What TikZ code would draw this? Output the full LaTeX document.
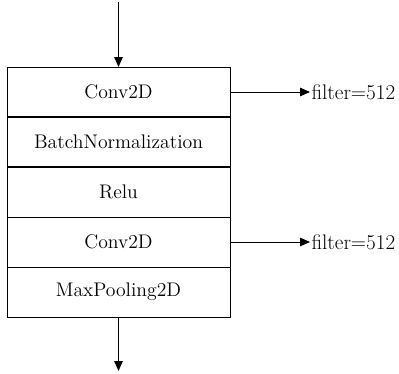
\documentclass[tikz,border=0pt]{standalone}
\usetikzlibrary{positioning,arrows.meta}

\begin{document}
\begin{tikzpicture}[every node/.style={font=\fontsize{14}{16}\selectfont},
    layer/.style={draw, line width=0.7pt, minimum width=5.575cm, minimum height=1.25cm, inner sep=0pt, outer sep=0pt},
    note/.style={inner sep=1pt, font=\fontsize{15}{17}\selectfont},
    >={Triangle[length=7pt,width=6pt]}]
    \useasboundingbox (0,0) rectangle (9.975,-9.35);
    \node[layer] (conva) at (2.9625,-2.3) {Conv2D};
    \node[layer, below=0pt of conva] (bn) {BatchNormalization};
    \node[layer, below=0pt of bn] (relu) {Relu};
    \node[layer, below=0pt of relu] (convb) {Conv2D};
    \node[layer, below=0pt of convb] (pool) {MaxPooling2D};
    % heavier separators
    \draw[line width=1.4pt] (conva.south west) -- (conva.south east);
    \draw[line width=1.4pt] (bn.south west) -- (bn.south east);
    % in and out
    \coordinate[above=1.625cm of conva.north] (in);
    \coordinate[below=1.35cm of pool.south] (out);
    \draw[->, line width=0.7pt] (in) -- (conva);
    \draw[->, line width=0.7pt] (pool) -- (out);
    % filters
    \node[note, right=2cm of conva.east] (fa) {filter=512};
    \node[note, right=2cm of convb.east] (fb) {filter=512};
    \draw[->, line width=0.7pt] (conva.east) -- (fa.west);
    \draw[->, line width=0.7pt] (convb.east) -- (fb.west);
\end{tikzpicture}
\end{document}
